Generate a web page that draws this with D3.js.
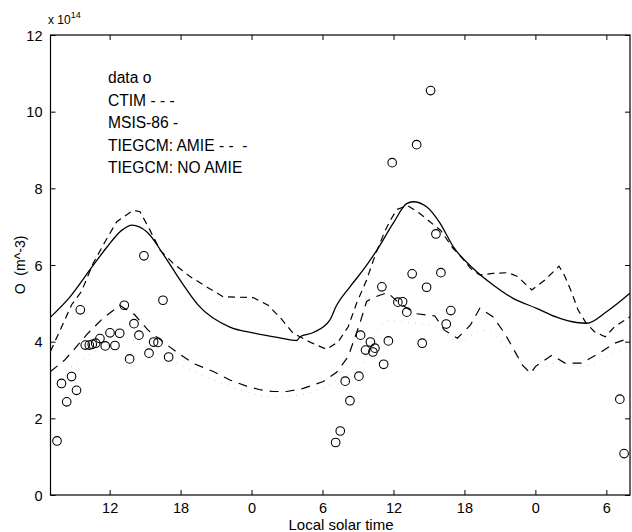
<!DOCTYPE html>
<html>
<head>
<meta charset="utf-8">
<script src="https://cdn.jsdelivr.net/npm/d3@7"></script>
<style>
  body { margin: 0; background: #fff; }
  text { font-family: "Liberation Sans", Arial, sans-serif; fill: #000; }
</style>
</head>
<body>
<svg width="632" height="532"></svg>
<script>
// data: [local solar time (continuous hours), O density / 1e14]
const dataO = [
  [7.55,1.41],[7.93,2.91],[8.37,2.43],[8.78,3.09],[9.20,2.73],[9.52,4.83],[9.94,3.91],
  [10.28,3.91],[10.53,3.93],[10.82,3.96],[11.18,4.08],[11.63,3.89],[12.03,4.23],[12.45,3.90],
  [12.85,4.22],[13.24,4.95],[13.69,3.55],[14.06,4.47],[14.48,4.17],[14.90,6.24],[15.33,3.70],
  [15.72,3.99],[16.09,3.98],[16.51,5.08],[16.99,3.60],
  [31.11,1.37],[31.50,1.67],[31.92,2.97],[32.32,2.46],[33.08,3.10],[33.22,4.17],[33.64,3.78],
  [34.05,3.99],[34.26,3.73],[34.43,3.83],[35.02,5.43],[35.17,3.41],[35.57,4.02],[35.89,8.67],
  [36.37,5.03],[36.77,5.04],[37.13,4.77],[37.58,5.77],[37.96,9.14],[38.43,3.96],[38.80,5.42],
  [39.14,10.55],[39.59,6.81],[40.01,5.80],[40.46,4.46],[40.85,4.81],
  [55.14,2.50],[55.50,1.08]
];

const ctim = [
  [7.0,3.75],[8.08,4.48],[8.8,4.97],[9.6,5.30],[10.62,6.05],[11.6,6.6],[12.6,7.13],[14.0,7.43],
  [14.57,7.39],[15.41,6.91],[16.26,6.39],[17.38,6.04],[18.79,5.70],[20.2,5.43],[21.61,5.17],
  [24.14,5.15],[25.4,4.95],[26.5,4.6],[27.52,4.22],[29.0,3.98],[30.35,3.80],[31.33,4.0],
  [32.17,4.39],[32.88,5.0],[33.73,5.61],[34.5,6.3],[35.3,6.9],[35.8,7.2],[36.3,7.45],
  [37.2,7.55],[38.2,7.35],[39.0,7.15],[40.0,6.9],[41.0,6.45],[41.9,6.15],[42.5,5.92],
  [43.3,5.74],[44.4,5.78],[45.7,5.80],[46.5,5.70],[47.1,5.52],[47.7,5.35],[48.8,5.61],
  [50.0,5.97],[50.5,5.70],[51.1,5.26],[51.6,4.83],[52.3,4.48],[53.0,4.26],[53.9,4.13],
  [54.7,4.39],[56.0,4.65]
];

const msis = [
  [7.0,4.64],[8.65,5.17],[10.51,5.95],[11.78,6.47],[13.04,6.91],[13.89,7.04],[15.16,6.86],
  [16.68,6.21],[17.95,5.61],[19.47,4.96],[22.17,4.38],[24.12,4.23],[26.40,4.10],[27.83,4.03],
  [28.1,4.13],[29.22,4.24],[30.63,4.57],[31.13,4.91],[32.32,5.43],[33.44,5.87],[34.6,6.39],
  [35.98,7.09],[37.11,7.60],[37.67,7.65],[38.80,7.52],[39.92,7.10],[41.05,6.48],[42.74,5.91],
  [44.43,5.48],[46.12,5.13],[48.10,4.87],[49.79,4.64],[51.48,4.50],[52.33,4.48],[54.02,4.78],
  [55.99,5.26]
];

const tgcmAmie = [
  [7.0,3.22],[8.2,3.52],[9.0,3.80],[10.17,4.22],[11.44,4.61],[12.85,4.95],[14.12,4.70],
  [15.25,4.30],[16.5,4.0],[17.78,3.70],[19.1,3.43],[20.76,3.22],[22.17,3.0],[23.58,2.84],
  [24.8,2.74],[25.83,2.70],[26.97,2.70],[28.37,2.78],[30.06,2.96],[31.19,3.2],[32.17,3.61],
  [33.16,4.48],[33.73,5.05],[34.3,5.15],[35.5,5.28],[36.5,5.0],[37.9,4.73],[39.5,4.67],
  [40.3,4.30],[41.4,4.09],[42.5,4.43],[43.3,4.87],[44.4,4.65],[45.4,4.22],[46.2,3.78],
  [46.9,3.39],[47.6,3.17],[48.0,3.35],[49.4,3.65],[50.5,3.44],[51.9,3.44],[53.4,3.70],
  [54.7,3.96],[56.0,4.1]
];

const tgcmNoAmie = [
  [7.0,2.85],[8.8,3.35],[10.2,3.65],[12.0,3.95],[13.3,4.1],[14.5,3.95],[16.0,3.7],[18.0,3.4],
  [20.0,3.1],[22.0,2.85],[24.0,2.65],[26.0,2.55],[28.0,2.6],[30.0,2.8],[31.5,3.05],[33.2,3.31],
  [34.5,4.2],[35.5,4.55],[37.5,4.5],[39.5,4.4],[41.5,4.0],[43.5,4.3],[45.5,3.9],[47.0,3.4],
  [47.8,3.13],[48.3,3.3],[50.0,3.45],[52.0,3.35],[54.0,3.6],[56.0,3.9]
];

const xTicks = [12, 18, 24, 30, 36, 42, 48, 54];
const xTickLabels = ["12", "18", "0", "6", "12", "18", "0", "6"];
const yTicks = [0, 2, 4, 6, 8, 10, 12];
const legendLines = ["data o", "CTIM - - -", "MSIS-86 -", "TIEGCM: AMIE - -  -", "TIEGCM: NO AMIE"];

const box = {left: 50.5, right: 630, top: 35, bottom: 495};

let svg = d3.select("svg");

let scaleX = d3.scaleLinear().domain([7, 56]).range([box.left, box.right]);
let scaleY = d3.scaleLinear().domain([0, 12]).range([box.bottom, box.top]);

// clip
svg.append("clipPath").attr("id", "plot")
  .append("rect").attr("x", box.left).attr("y", box.top)
  .attr("width", box.right - box.left).attr("height", box.bottom - box.top);

// axes, ticks pointing inward (MATLAB style)
let gx = svg.append("g").attr("transform", "translate(0," + box.bottom + ")")
  .call(d3.axisBottom(scaleX).tickValues(xTicks).tickSizeInner(-5).tickSizeOuter(0).tickPadding(8)
    .tickFormat((d, i) => xTickLabels[i]));
let gxTop = svg.append("g").attr("transform", "translate(0," + box.top + ")")
  .call(d3.axisTop(scaleX).tickValues(xTicks).tickSizeInner(-5).tickSizeOuter(0).tickFormat(""));
let gy = svg.append("g").attr("transform", "translate(" + box.left + ",0)")
  .call(d3.axisLeft(scaleY).tickValues(yTicks).tickSizeInner(-5).tickSizeOuter(0).tickPadding(8));
let gyRight = svg.append("g").attr("transform", "translate(" + box.right + ",0)")
  .call(d3.axisRight(scaleY).tickValues(yTicks).tickSizeInner(-5).tickSizeOuter(0).tickFormat(""));

[gx, gxTop, gy, gyRight].forEach(g => {
  g.select(".domain").remove();
  g.selectAll(".tick line").attr("stroke", "#000").attr("stroke-width", 1);
  g.selectAll("text").attr("font-size", 14.5).attr("fill", "#000")
    .style("font-family", "'Liberation Sans', Arial, sans-serif");
});
gy.selectAll(".tick text").attr("dy", "0.36em");

svg.append("rect").attr("x", box.left).attr("y", box.top)
  .attr("width", box.right - box.left).attr("height", box.bottom - box.top)
  .attr("fill", "none").attr("stroke", "#000").attr("stroke-width", 1.2);

// lines
let plot = svg.append("g").attr("clip-path", "url(#plot)");

let lineSmooth = d3.line().x(d => scaleX(d[0])).y(d => scaleY(d[1])).curve(d3.curveMonotoneX);
let lineStraight = d3.line().x(d => scaleX(d[0])).y(d => scaleY(d[1]));

plot.append("path").datum(tgcmNoAmie).attr("d", lineSmooth)
  .attr("fill", "none").attr("stroke", "#aaa").attr("stroke-width", 0.6)
  .attr("stroke-dasharray", "1,6");

plot.append("path").datum(tgcmAmie).attr("d", lineStraight)
  .attr("fill", "none").attr("stroke", "#000").attr("stroke-width", 1.2)
  .attr("stroke-dasharray", "9,7");

plot.append("path").datum(ctim).attr("d", lineStraight)
  .attr("fill", "none").attr("stroke", "#000").attr("stroke-width", 1.2)
  .attr("stroke-dasharray", "7,5");

plot.append("path").datum(msis).attr("d", lineSmooth)
  .attr("fill", "none").attr("stroke", "#000").attr("stroke-width", 1.3);

plot.selectAll("circle").data(dataO).enter().append("circle")
  .attr("cx", d => scaleX(d[0]))
  .attr("cy", d => scaleY(d[1]))
  .attr("r", 4.3)
  .attr("fill", "none").attr("stroke", "#000").attr("stroke-width", 1.1);

// legend (plain text, as in the figure)
svg.append("g").selectAll("text").data(legendLines).enter().append("text")
  .attr("x", 108)
  .attr("y", (d, i) => 83 + i * 22.6)
  .attr("font-size", 15.6)
  .style("white-space", "pre")
  .text(d => d);

// exponent
let expo = svg.append("text").attr("x", 48).attr("y", 24).attr("font-size", 12);
expo.append("tspan").text("x 10");
expo.append("tspan").attr("dy", -6).attr("font-size", 9).text("14");

// axis labels
svg.append("text")
  .attr("x", 341).attr("y", 530)
  .attr("text-anchor", "middle").attr("font-size", 15)
  .text("Local solar time");

svg.append("text")
  .attr("transform", "translate(25,265) rotate(-90)")
  .attr("text-anchor", "middle").attr("font-size", 14)
  .style("white-space", "pre")
  .text("O  (m^-3)");
</script>
</body>
</html>
